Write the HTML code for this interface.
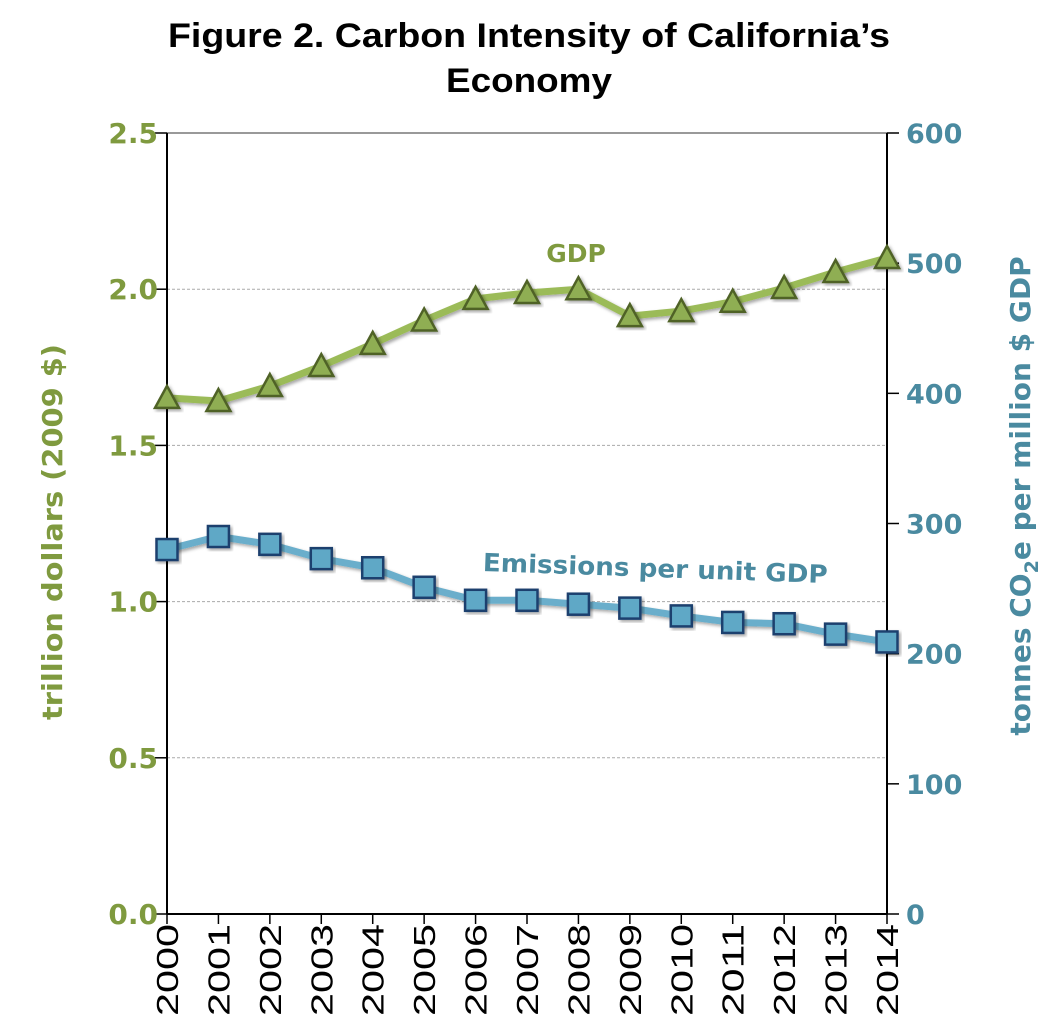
<!DOCTYPE html>
<html><head><meta charset="utf-8"><style>
html,body{margin:0;padding:0;background:#fff;}
svg{display:block;}
</style></head><body>
<svg id="chart" width="1046" height="1026" xmlns="http://www.w3.org/2000/svg">
<defs>
<filter id="sh" x="-20%" y="-20%" width="140%" height="140%"><feDropShadow dx="2" dy="2" stdDeviation="1.5" flood-color="#000" flood-opacity="0.35"/></filter>
</defs>
<text x="529" y="47" text-anchor="middle" font-family="Liberation Sans, sans-serif" font-weight="bold" font-size="34" textLength="722" lengthAdjust="spacingAndGlyphs" fill="#000">Figure 2. Carbon Intensity of California’s</text>
<text x="529" y="92" text-anchor="middle" font-family="Liberation Sans, sans-serif" font-weight="bold" font-size="34" textLength="166" lengthAdjust="spacingAndGlyphs" fill="#000">Economy</text>
<g id="grid"></g>
<g id="axes"></g>
<g id="series"></g>
<text x="576" y="262" text-anchor="middle" font-family="DejaVu Sans, sans-serif" font-weight="bold" font-size="25" fill="#7f9a3f">GDP</text>
<text x="655" y="577" text-anchor="middle" font-family="DejaVu Sans, sans-serif" font-weight="bold" font-size="25" textLength="345" lengthAdjust="spacingAndGlyphs" fill="#4a8aa0" transform="rotate(2 655 577)">Emissions per unit GDP</text>
<text transform="translate(62 532) rotate(-90)" text-anchor="middle" font-family="DejaVu Sans, sans-serif" font-weight="bold" font-size="28" textLength="376" lengthAdjust="spacingAndGlyphs" fill="#7f9a3f">trillion dollars (2009 $)</text>
<text transform="translate(1030 496) rotate(-90)" text-anchor="middle" font-family="DejaVu Sans, sans-serif" font-weight="bold" font-size="28" fill="#4a8aa0">tonnes CO<tspan font-size="19" dy="8">2</tspan><tspan dy="-8">e per million $ GDP</tspan></text>
</svg>
<script>
const years = [2000,2001,2002,2003,2004,2005,2006,2007,2008,2009,2010,2011,2012,2013,2014];
const gdp = [1.652,1.642,1.69,1.754,1.825,1.90,1.969,1.988,2.0,1.914,1.93,1.96,2.004,2.055,2.1];
const emissions = [280,290,284,273,266,251,241,241,238,235,229,224,223,215,209];
const leftTicks = [0,0.5,1.0,1.5,2.0,2.5];
const rightTicks = [0,100,200,300,400,500,600];

const NS='http://www.w3.org/2000/svg';
const X0=167,X1=887,Y0=914,Y1=133;
const x=i=>X0+(X1-X0)*(years[i]-years[0])/(years[years.length-1]-years[0]);
const yL=v=>Y0-(Y0-Y1)*v/2.5;
const yR=v=>Y0-(Y0-Y1)*v/600;
function mk(tag,attrs,parent){const e=document.createElementNS(NS,tag);for(const k in attrs)e.setAttribute(k,attrs[k]);document.getElementById(parent).appendChild(e);return e;}

leftTicks.forEach(v=>{
  if(v>0){const g=mk('line',{x1:X0,x2:X1,y1:yL(v),y2:yL(v),stroke:v===2.5?'#999':'#aaa','stroke-width':v===2.5?2:1,'stroke-dasharray':v===2.5?'none':'3,2'},'grid');
  
  }
  const t=mk('line',{x1:X0-12,x2:X0,y1:yL(v),y2:yL(v),stroke:'#000','stroke-width':1.5},'axes');
  
  
  const l=mk('text',{x:X0-9,y:yL(v)+10,'text-anchor':'end','font-family':'DejaVu Sans, sans-serif','font-weight':'bold','font-size':28,fill:'#7f9a3f'},'axes');
  l.textContent=v.toFixed(1);
  
  
});
rightTicks.forEach(v=>{
  const t=mk('line',{x1:X1,x2:X1+12,y1:yR(v),y2:yR(v),stroke:'#000','stroke-width':1.5},'axes');
  
  
  const l=mk('text',{x:X1+19,y:yR(v)+10,'text-anchor':'start','font-family':'DejaVu Sans, sans-serif','font-weight':'bold','font-size':27,fill:'#4a8aa0'},'axes');
  l.textContent=v;
  
  
});
const ax1=mk('line',{x1:X0,x2:X0,y1:Y1,y2:Y0,stroke:'#000','stroke-width':2},'axes');


const ax2=mk('line',{x1:X1,x2:X1,y1:Y1,y2:Y0,stroke:'#000','stroke-width':2},'axes');


const ax3=mk('line',{x1:X0,x2:X1,y1:Y0,y2:Y0,stroke:'#000','stroke-width':2},'axes');


years.forEach((yr,i)=>{
  const t=mk('line',{x1:x(i),x2:x(i),y1:Y0,y2:Y0+10,stroke:'#000','stroke-width':1.5},'axes');
  
  
  const l=mk('text',{transform:`translate(${x(i)+11} ${Y0+10}) rotate(-90)`,'text-anchor':'end','font-family':'Liberation Sans, sans-serif','font-size':31,textLength:92,lengthAdjust:'spacingAndGlyphs',fill:'#000'},'axes');
  l.textContent=yr;
  
  
});
// GDP
const gp=mk('polyline',{points:gdp.map((v,i)=>x(i)+','+yL(v)).join(' '),fill:'none',stroke:'#9bbb59','stroke-width':7,'stroke-linejoin':'round',filter:'url(#sh)'},'series');


gdp.forEach((v,i)=>{
  const cx=x(i),cy=yL(v);
  const m=mk('polygon',{points:`${cx},${cy-12} ${cx+12},${cy+10} ${cx-12},${cy+10}`,fill:'#8fae52',stroke:'#4f6228','stroke-width':2.5,filter:'url(#sh)'},'series');
  
  
});
// Emissions
const ep=mk('polyline',{points:emissions.map((v,i)=>x(i)+','+yR(v)).join(' '),fill:'none',stroke:'#6baecb','stroke-width':7,'stroke-linejoin':'round',filter:'url(#sh)'},'series');


emissions.forEach((v,i)=>{
  const cx=x(i),cy=yR(v);
  const m=mk('rect',{x:cx-10.5,y:cy-10.5,width:21,height:21,fill:'#5fa8c6',stroke:'#1f3f6e','stroke-width':2.5,filter:'url(#sh)'},'series');
  
  
});
</script>
</body></html>
